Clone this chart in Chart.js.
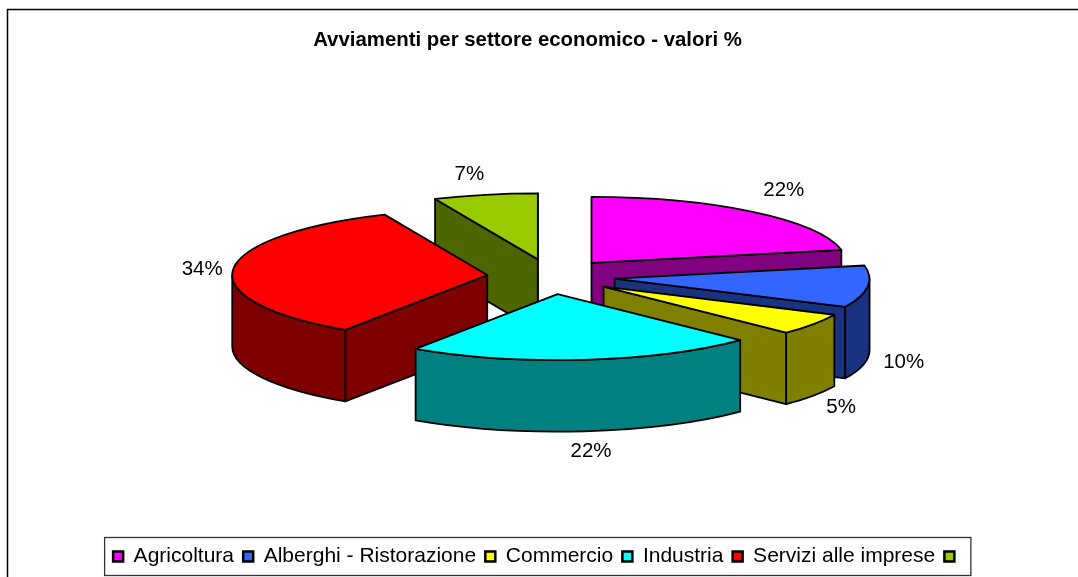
<!DOCTYPE html>
<html><head><meta charset="utf-8">
<style>html,body{margin:0;padding:0;background:#fff}canvas{display:block}</style>
<script src="https://cdn.jsdelivr.net/npm/chart.js@4/dist/chart.umd.js"></script>
</head><body><canvas id="c" width="1078" height="577"></canvas>
<script>
const categories = ['Agricoltura','Alberghi - Ristorazione','Commercio','Industria','Servizi alle imprese',''];
const values = [21.8,10.2,5.3,22.1,34.0,6.6];
const topColors = ['#FF00FF','#3366FF','#FFFF00','#00FFFF','#FF0000','#99CC00'];
const wallColors = ['#800080','#1A3380','#808000','#008080','#7F0000','#4D6600'];
const paintOrder = [5,0,4,1,2,3];
const labelNudges = [[31,-21],[36,4],[28,12],[7,20],[-31,0],[-16,-20]];

const RADIUS = 255, TILT = 0.259, DEPTH = 71.5, EXPLODE_X = 64, EXPLODE_Y = 17.6;
const CENTER = {x:551, y:276.6};
const FONT = '"Liberation Sans", Arial, sans-serif';

function geom(arc){
  const p = arc.getProps(['x','y','startAngle','endAngle','outerRadius'], true);
  const mid = (p.startAngle+p.endAngle)/2;
  return {s:p.startAngle, e:p.endAngle, mid, r:p.outerRadius, ox:p.x, oy:p.y,
    ax:CENTER.x+EXPLODE_X*Math.cos(mid), ay:CENTER.y+EXPLODE_Y*Math.sin(mid)};
}
const ptX=(g,a)=>g.ax+g.r*Math.cos(a), ptY=(g,a)=>g.ay+g.r*TILT*Math.sin(a);

function strokeFill(ctx,fill){
  ctx.fillStyle=fill; ctx.fill();
  ctx.strokeStyle='#000'; ctx.lineWidth=1.8; ctx.lineJoin='round'; ctx.stroke();
}
function radialWall(ctx,g,a,fill){
  ctx.beginPath();
  ctx.moveTo(g.ax,g.ay); ctx.lineTo(ptX(g,a),ptY(g,a));
  ctx.lineTo(ptX(g,a),ptY(g,a)+DEPTH); ctx.lineTo(g.ax,g.ay+DEPTH); ctx.closePath();
  strokeFill(ctx,fill);
}
function curvedWall(ctx,g,fill){
  for(const k of [0,2]){
    const lo=Math.max(g.s,k*Math.PI), hi=Math.min(g.e,k*Math.PI+Math.PI);
    if(hi<=lo) continue;
    ctx.beginPath();
    ctx.ellipse(g.ax,g.ay,g.r,g.r*TILT,0,lo,hi,false);
    ctx.ellipse(g.ax,g.ay+DEPTH,g.r,g.r*TILT,0,hi,lo,true);
    ctx.closePath();
    strokeFill(ctx,fill);
  }
}
const pie3d = {
  id:'pie3d',
  afterLayout(chart){ chart.titleBlock.left -= 23; },
  beforeDatasetDraw(){ return false; },
  afterDatasetsDraw(chart){
    const ctx=chart.ctx, arcs=chart.getDatasetMeta(0).data;
    for(const i of paintOrder){
      const arc=arcs[i], g=geom(arc);
      ctx.save();
      if(Math.cos(g.s)<0) radialWall(ctx,g,g.s,wallColors[i]);
      if(Math.cos(g.e)>0) radialWall(ctx,g,g.e,wallColors[i]);
      curvedWall(ctx,g,wallColors[i]);
      ctx.save();
      ctx.translate(g.ax,g.ay); ctx.scale(1,TILT); ctx.translate(-g.ox,-g.oy);
      arc.draw(ctx);
      ctx.restore();
      ctx.beginPath();
      ctx.moveTo(g.ax,g.ay);
      ctx.ellipse(g.ax,g.ay,g.r,g.r*TILT,0,g.s,g.e,false);
      ctx.closePath();
      ctx.strokeStyle='#000'; ctx.lineWidth=1.8; ctx.lineJoin='round'; ctx.stroke();
      ctx.restore();
    }
    ctx.save();
    ctx.fillStyle='#000'; ctx.font='20.5px '+FONT; ctx.textAlign='center'; ctx.textBaseline='middle';
    arcs.forEach((arc,i)=>{
      const g=geom(arc), lower=Math.sin(g.mid)>0;
      const x=ptX(g,g.mid)+labelNudges[i][0], y=ptY(g,g.mid)+(lower?DEPTH:0)+labelNudges[i][1];
      ctx.fillText(Math.round(values[i])+'%',x,y);
    });
    ctx.restore();
  },
  afterDraw(chart){
    const ctx=chart.ctx, hb=chart.legend.legendHitBoxes;
    ctx.save();
    ctx.strokeStyle='#000'; ctx.lineWidth=1.5;
    ctx.strokeRect(7.5,9.5,1100,620);
    const first=hb[0], last=hb[hb.length-1];
    const cy=first.top+first.height/2;
    ctx.strokeStyle='#333'; ctx.lineWidth=1.3;
    const left=first.left-8.5, right=last.left+last.width+6;
    ctx.strokeRect(left, cy-19, right-left, 38);
    ctx.restore();
  }
};
new Chart(document.getElementById('c'),{
  type:'pie',
  plugins:[pie3d],
  data:{labels:categories,datasets:[{data:values,backgroundColor:topColors,borderWidth:0}]},
  options:{
    responsive:false, animation:false,
    radius:RADIUS,
    events:[],
    plugins:{
      tooltip:{enabled:false},
      title:{display:true,text:'Avviamenti per settore economico - valori %',color:'#000',
        font:{family:FONT,size:20.4,weight:'bold'},padding:{top:28,bottom:10}},
      legend:{position:'bottom',labels:{font:{family:FONT,size:21},color:'#000',boxWidth:10,boxHeight:10,padding:9.2,
        generateLabels(chart){
          return Chart.overrides.pie.plugins.legend.labels.generateLabels(chart).map(l=>Object.assign(l,{strokeStyle:'#000',lineWidth:2.5}));
        }}}
    }
  }
});
</script></body></html>
